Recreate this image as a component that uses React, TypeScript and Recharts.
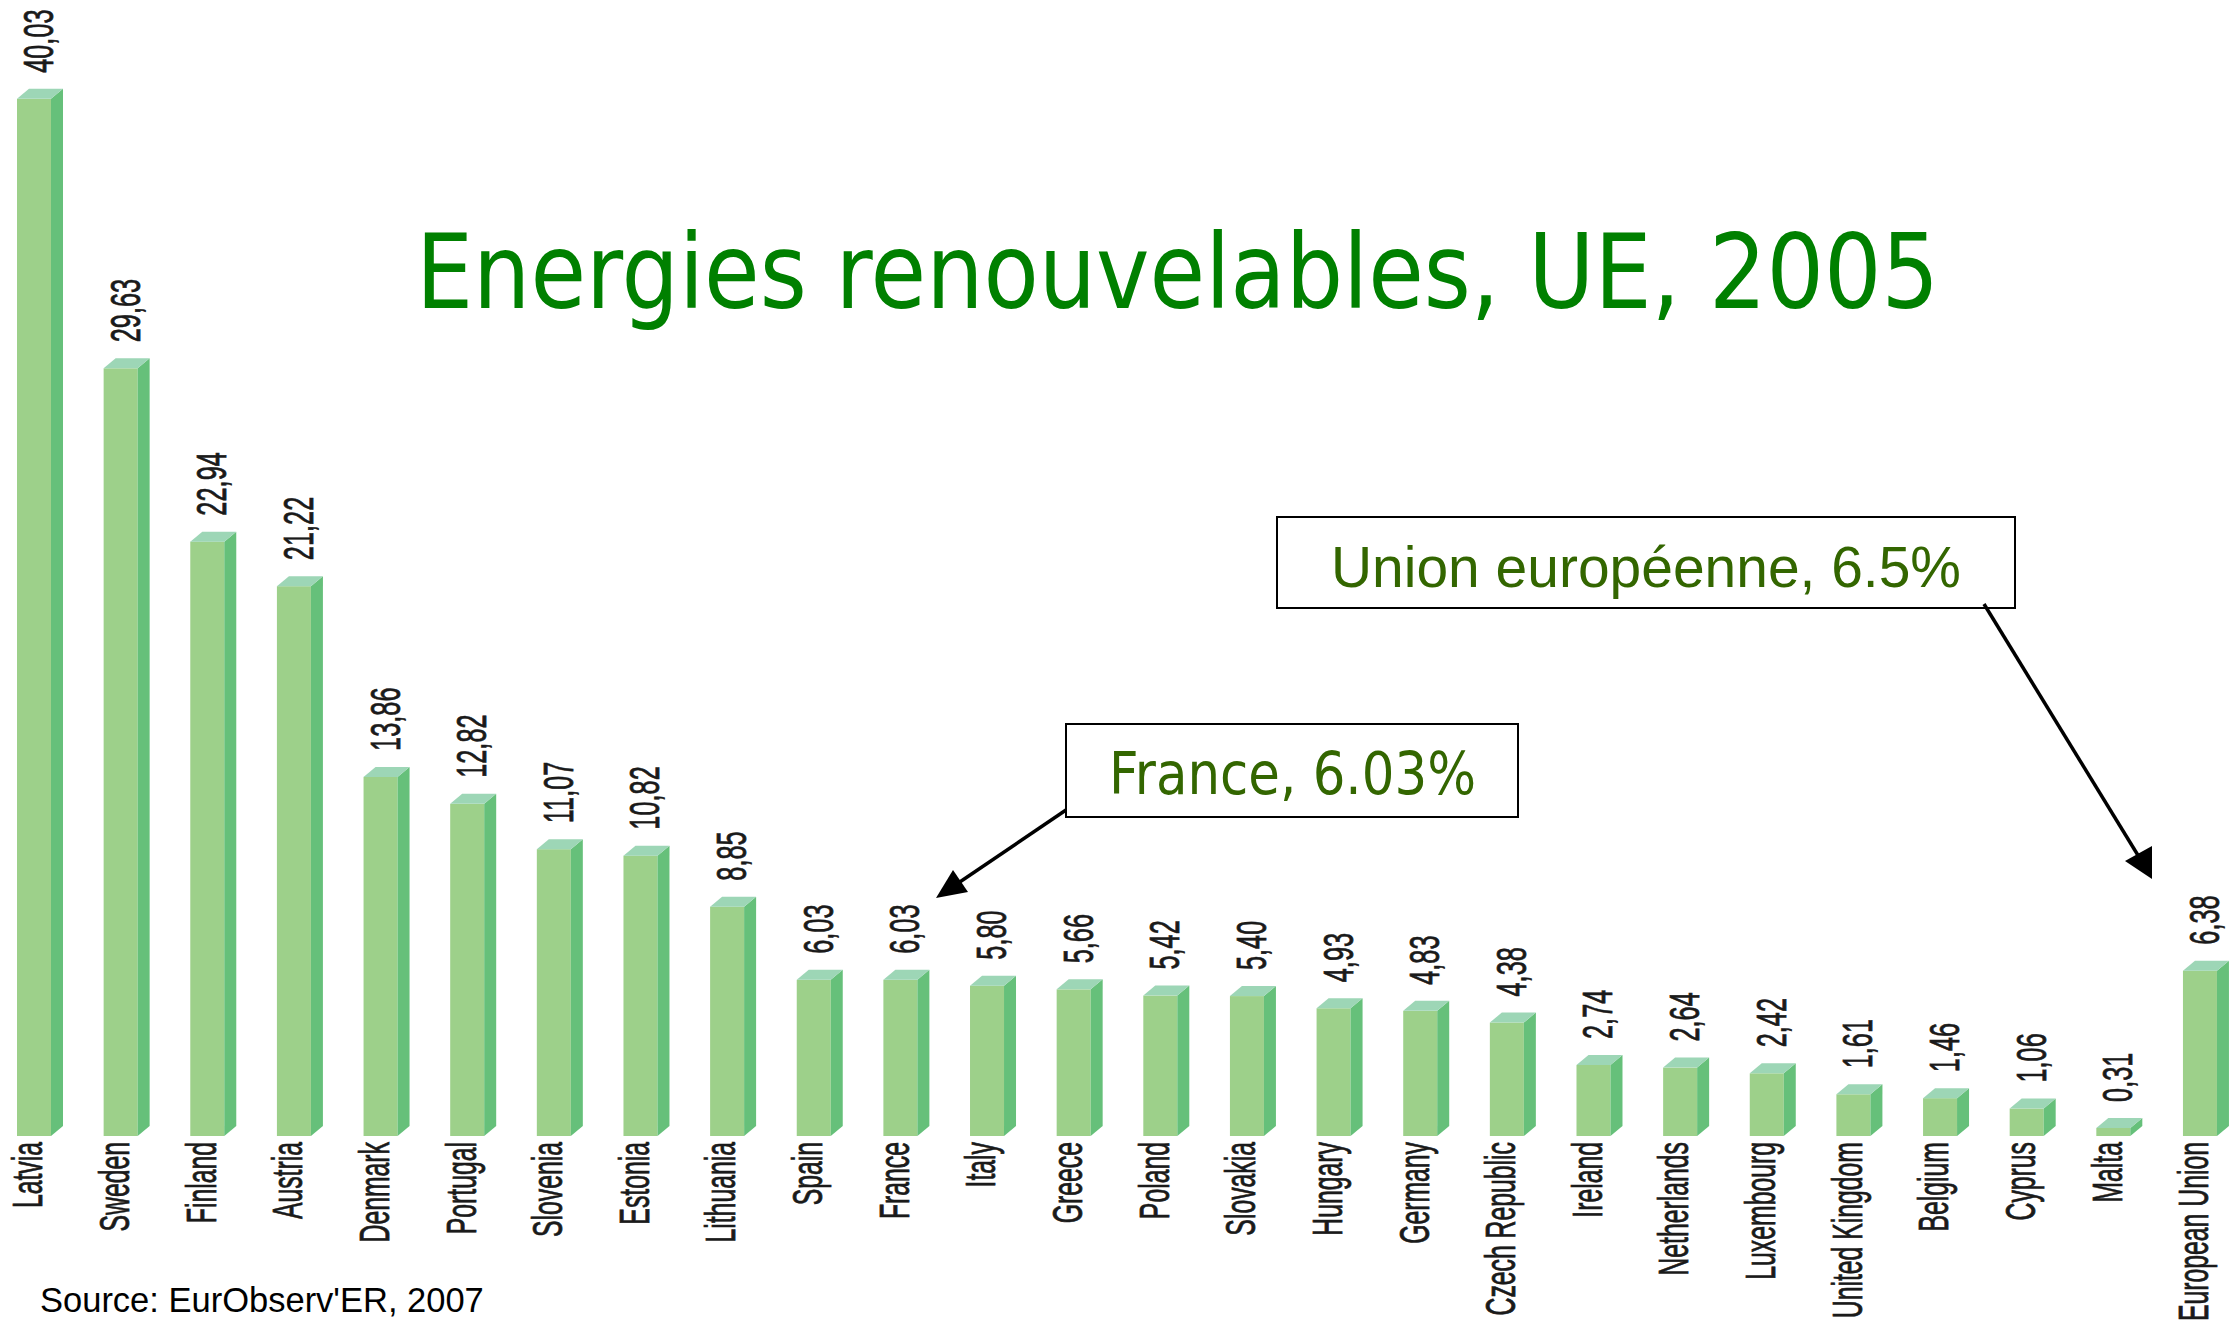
import React from "react";
import { BarChart, Bar, XAxis, YAxis, LabelList } from "recharts";

const countries = [
  "Latvia", "Sweden", "Finland", "Austria", "Denmark", "Portugal", "Slovenia",
  "Estonia", "Lithuania", "Spain", "France", "Italy", "Greece", "Poland",
  "Slovakia", "Hungary", "Germany", "Czech Republic", "Ireland", "Netherlands",
  "Luxembourg", "United Kingdom", "Belgium", "Cyprus", "Malta", "European Union",
];
const shares = [
  40.03, 29.63, 22.94, 21.22, 13.86, 12.82, 11.07, 10.82, 8.85, 6.03, 6.03,
  5.8, 5.66, 5.42, 5.4, 4.93, 4.83, 4.38, 2.74, 2.64, 2.42, 1.61, 1.46, 1.06,
  0.31, 6.38,
];
const titleText = "Energies renouvelables, UE, 2005";
const franceNote = "France, 6.03%";
const euNote = "Union européenne, 6.5%";
const sourceText = "Source: EurObserv'ER, 2007";

const data = countries.map((c, i) => ({ country: c, value: shares[i] }));

const FRONT = "#9dd08a";
const SIDE = "#66c07a";
const TOP = "#9dd6b6";
const DX = 12;
const DY = 10;

const Box3D = (props: any) => {
  const { x, y, width, height } = props;
  if (height == null || width == null) return null;
  const l = x;
  const r = x + width;
  const t = y;
  const b = y + height;
  return (
    <g>
      <rect x={l} y={t} width={width} height={height} fill={FRONT} />
      <polygon
        points={`${r},${t} ${r + DX},${t - DY} ${r + DX},${b - DY} ${r},${b}`}
        fill={SIDE}
      />
      <polygon
        points={`${l},${t} ${l + DX},${t - DY} ${r + DX},${t - DY} ${r},${t}`}
        fill={TOP}
      />
    </g>
  );
};

const ValueLabel = (props: any) => {
  const { x, y, value } = props;
  const txt = Number(value).toFixed(2).replace(".", ",");
  return (
    <g transform={`translate(${x + 36},${y - 26}) rotate(-90)`}>
      <text
        transform="scale(0.59,1)"
        x={0}
        y={0}
        textAnchor="start"
        fontFamily="'Liberation Sans', Arial, sans-serif"
        fontSize={43}
        fill="#1a1a1a"
        stroke="#1a1a1a"
        strokeWidth={0.8}
      >
        {txt}
      </text>
    </g>
  );
};

const CategoryTick = (props: any) => {
  const { x, y, payload } = props;
  return (
    <g transform={`translate(${x + 8},${y}) rotate(-90)`}>
      <text
        transform="scale(0.59,1)"
        x={0}
        y={0}
        textAnchor="end"
        fontFamily="'Liberation Sans', Arial, sans-serif"
        fontSize={42}
        fill="#1a1a1a"
        stroke="#1a1a1a"
        strokeWidth={0.8}
      >
        {payload.value}
      </text>
    </g>
  );
};

export default function App() {
  return (
    <div
      style={{
        position: "absolute",
        left: 0,
        top: 0,
        width: 2230,
        height: 1327,
        overflow: "hidden",
        background: "#fff",
      }}
    >
      <div style={{ position: "absolute", left: -9.3, top: 0 }}>
        <BarChart
          width={2263}
          height={1327}
          data={data}
          margin={{ top: 47.8, right: 10.4, bottom: 0, left: 0 }}
          barSize={34}
        >
          <XAxis
            dataKey="country"
            axisLine={false}
            tickLine={false}
            tickSize={0}
            tickMargin={6}
            interval={0}
            height={191}
            tick={<CategoryTick />}
          />
          <YAxis hide domain={[0, 42]} />
          <Bar dataKey="value" shape={<Box3D />} isAnimationActive={false}>
            <LabelList dataKey="value" content={<ValueLabel />} />
          </Bar>
        </BarChart>
      </div>
      <svg
        width={2230}
        height={1327}
        style={{ position: "absolute", left: 0, top: 0, pointerEvents: "none" }}
      >
        <text
          x={416}
          y={308}
          fontFamily="'DejaVu Sans', Verdana, sans-serif"
          fontSize={103}
          fill="#008000"
          textLength={1523}
          lengthAdjust="spacingAndGlyphs"
        >
          {titleText}
        </text>

        <rect x={1066} y={724} width={452} height={93} fill="#fff" stroke="#000" strokeWidth={2} />
        <text
          x={1109}
          y={794}
          fontFamily="'DejaVu Sans', Verdana, sans-serif"
          fontSize={58}
          fill="#336600"
          textLength={367}
          lengthAdjust="spacingAndGlyphs"
        >
          {franceNote}
        </text>
        <line x1={1066} y1={810} x2={945} y2={892} stroke="#000" strokeWidth={3.5} />
        <polygon points="936,898 953,870 968,892" fill="#000" />

        <rect x={1277} y={517} width={738} height={91} fill="#fff" stroke="#000" strokeWidth={2} />
        <text
          x={1331}
          y={587}
          fontFamily="'Liberation Sans', Arial, sans-serif"
          fontSize={58}
          fill="#336600"
          textLength={630}
          lengthAdjust="spacingAndGlyphs"
        >
          {euNote}
        </text>
        <line x1={1984} y1={604} x2={2147} y2={870} stroke="#000" strokeWidth={3.5} />
        <polygon points="2152,879 2125,861 2152,846" fill="#000" />

        <text
          x={40}
          y={1312}
          fontFamily="'Liberation Sans', Arial, sans-serif"
          fontSize={34.5}
          fill="#000"
        >
          {sourceText}
        </text>
      </svg>
    </div>
  );
}
